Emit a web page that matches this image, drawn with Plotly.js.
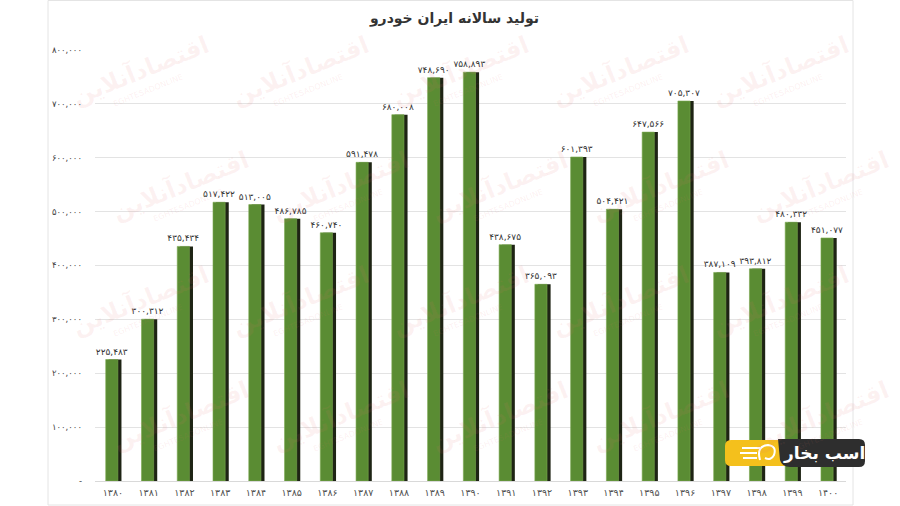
<!DOCTYPE html>
<html>
<head>
<meta charset="utf-8">
<script src="https://cdn.plot.ly/plotly-3.0.1.min.js"></script>
<style>html,body{margin:0;padding:0;background:#fff;}#chart{width:900px;height:506px;}</style>
</head>
<body>
<div id="chart"></div>
<script>
const years = ['۱۳۸۰','۱۳۸۱','۱۳۸۲','۱۳۸۳','۱۳۸۴','۱۳۸۵','۱۳۸۶','۱۳۸۷','۱۳۸۸','۱۳۸۹','۱۳۹۰','۱۳۹۱','۱۳۹۲','۱۳۹۳','۱۳۹۴','۱۳۹۵','۱۳۹۶','۱۳۹۷','۱۳۹۸','۱۳۹۹','۱۴۰۰'];
const production = [225483,300312,435434,517422,513005,486785,460740,591478,680008,748690,758893,438675,365093,601393,504421,647566,705307,387109,393812,480332,451077];
const yTickVals = [0,100000,200000,300000,400000,500000,600000,700000,800000];
const yTickText = ['-','۱۰۰,۰۰۰','۲۰۰,۰۰۰','۳۰۰,۰۰۰','۴۰۰,۰۰۰','۵۰۰,۰۰۰','۶۰۰,۰۰۰','۷۰۰,۰۰۰','۸۰۰,۰۰۰'];
const titleText = 'تولید سالانه ایران خودرو';
const logoText = 'اسب بخار';
const watermarkText = 'اقتصادآنلاین';
const watermarkSub = 'EGHTESADONLINE';

function toFa(n){
  return n.toLocaleString('en-US').replace(/\d/g, d => '۰۱۲۳۴۵۶۷۸۹'[d]);
}

const FONT = 'DejaVu Sans';
// plot area in pixels
const L = 95, R = 846, T = 50, B = 481;
const px = x => (x - L) / (R - L);
const py = y => (B - y) / (B - T);

const shadow = {
  type: 'bar', x: years, y: production,
  width: 0.36, offset: -0.12,
  marker: {color: '#1e2414'},
  hoverinfo: 'skip', showlegend: false
};
const bars = {
  type: 'bar', x: years, y: production,
  width: 0.34, offset: -0.2,
  marker: {color: '#5a8c33', line: {color: '#7aa84f', width: 0.6}},
  text: production.map(toFa), textposition: 'outside', constraintext: 'none',
  textfont: {family: FONT, size: 9, color: '#333333'},
  cliponaxis: false, showlegend: false
};

const annotations = [];
// faint watermark
for (let i = 0; i < 5; i++) {
  for (let j = 0; j < 4; j++) {
    const cx = 140 + i * 160 + (j % 2) * 40, cy = 70 + j * 115;
    annotations.push({
      xref: 'paper', yref: 'paper', xanchor: 'center', yanchor: 'middle',
      x: px(cx), y: py(cy),
      text: watermarkText, showarrow: false, textangle: -22,
      font: {family: FONT, size: 24, color: 'rgba(230,110,110,0.09)', weight: 'bold'}
    });
    annotations.push({
      xref: 'paper', yref: 'paper', xanchor: 'center', yanchor: 'middle',
      x: px(cx + 8), y: py(cy + 20),
      text: watermarkSub, showarrow: false, textangle: -22,
      font: {family: FONT, size: 8, color: 'rgba(230,110,110,0.10)'}
    });
  }
}
annotations.push({
  xref: 'paper', yref: 'paper', xanchor: 'center', yanchor: 'middle',
  x: px(824), y: py(453),
  text: '<b>' + logoText + '</b>', showarrow: false,
  font: {family: FONT, size: 17, color: '#ffffff'}
});

const shapes = [
  {type: 'rect', xref: 'paper', yref: 'paper', x0: px(48), x1: px(853), y0: py(505), y1: py(0.5),
   line: {color: '#e4e4e4', width: 1}, layer: 'below'},
  {type: 'path', xref: 'paper', yref: 'paper',
   path: `M ${px(731)} ${py(440)} L ${px(795)} ${py(440)} L ${px(795)} ${py(466)} L ${px(731)} ${py(466)} Q ${px(725)} ${py(466)} ${px(725)} ${py(460)} L ${px(725)} ${py(446)} Q ${px(725)} ${py(440)} ${px(731)} ${py(440)} Z`,
   fillcolor: '#f4c01c', line: {width: 0}},
  {type: 'path', xref: 'paper', yref: 'paper',
   path: `M ${px(778)} ${py(439)} L ${px(859)} ${py(439)} Q ${px(865)} ${py(439)} ${px(865)} ${py(445)} L ${px(865)} ${py(461)} Q ${px(865)} ${py(467)} ${px(859)} ${py(467)} L ${px(790)} ${py(467)} Q ${px(782)} ${py(467)} ${px(780)} ${py(460)} Z`,
   fillcolor: '#2e2e2e', line: {width: 0}},
  // simple horse-like emblem in yellow part
  {type: 'path', xref: 'paper', yref: 'paper',
   path: `M ${px(742)} ${py(448)} L ${px(760)} ${py(448)} M ${px(740)} ${py(453)} L ${px(757)} ${py(453)} M ${px(743)} ${py(458)} L ${px(757)} ${py(458)} M ${px(760)} ${py(460)} Q ${px(756)} ${py(446)} ${px(768)} ${py(445)} Q ${px(777)} ${py(446)} ${px(774)} ${py(455)} Q ${px(771)} ${py(461)} ${px(765)} ${py(458)}`,
   line: {color: '#ffffff', width: 2}}
];

const layout = {
  width: 900, height: 506,
  margin: {l: L, r: 900 - R, t: T, b: 506 - B},
  paper_bgcolor: '#ffffff', plot_bgcolor: 'rgba(0,0,0,0)',
  barmode: 'overlay',
  title: {text: '<b>' + titleText + '</b>', x: 0.505, xanchor: 'center', y: 0.965, yanchor: 'middle',
          font: {family: FONT, size: 14, color: '#333333'}},
  xaxis: {type: 'category', showgrid: false, zeroline: false, showline: false,
          tickfont: {family: FONT, size: 9.5, color: '#505050'}, ticks: '', ticklabelstandoff: 4,
          fixedrange: true},
  yaxis: {range: [0, 800000], tickvals: yTickVals, ticktext: yTickText,
          showgrid: true, gridcolor: '#e3e3e3', gridwidth: 1, zeroline: true, zerolinecolor: '#d9d9d9',
          tickfont: {family: FONT, size: 8.5, color: '#444444'}, ticks: '', ticklabelstandoff: 12,
          fixedrange: true},
  annotations: annotations,
  shapes: shapes,
  font: {family: FONT}
};

Plotly.newPlot('chart', [shadow, bars], layout, {displayModeBar: false, staticPlot: true});
</script>
</body>
</html>
